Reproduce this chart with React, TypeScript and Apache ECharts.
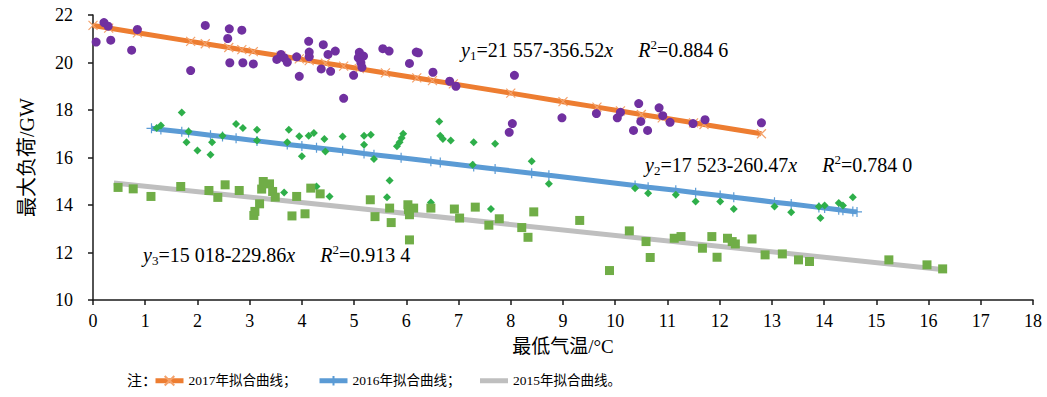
import React, { useEffect, useRef } from "react";
import * as echarts from "echarts";

// ---- data ----
const xTicks = [0, 18, 1];
const yTicks = [10, 22, 2];

const load2017 = [
  [0.06, 20.86], [0.21, 21.68], [0.29, 21.53], [0.34, 20.94], [0.74, 20.52], [0.85, 21.39],
  [1.87, 19.66], [2.15, 21.56], [2.61, 21.42], [2.58, 21.01], [2.85, 21.36], [2.62, 19.99],
  [2.87, 19.99], [3.07, 19.94], [3.52, 20.13], [3.6, 20.34], [3.66, 20.2], [3.72, 20.01],
  [3.9, 20.24], [3.95, 19.42], [4.13, 20.89], [4.14, 20.44], [4.14, 20.24], [4.37, 19.73],
  [4.41, 20.75], [4.5, 20.34], [4.55, 19.63], [4.64, 20.48], [4.8, 18.49], [4.99, 19.46],
  [5.1, 20.43], [5.08, 20.2], [5.18, 20.27], [5.13, 19.99], [5.15, 19.8], [5.55, 20.58],
  [5.67, 20.48], [6.06, 19.96], [6.19, 20.44], [6.23, 20.41], [6.51, 19.59], [6.83, 19.21],
  [6.95, 19.0], [8.07, 19.46], [8.03, 17.43], [7.97, 17.06], [8.98, 17.67], [9.64, 17.85],
  [10.1, 17.9], [10.04, 17.67], [10.45, 18.27], [10.49, 17.52], [10.35, 17.14], [10.62, 17.14],
  [10.84, 18.09], [10.91, 17.76], [11.05, 17.48], [11.49, 17.43], [11.72, 17.59], [12.8, 17.46],
];

const load2016 = [
  [1.22, 17.24], [1.3, 17.35], [1.7, 17.9], [1.83, 17.1], [1.79, 16.64], [2.0, 16.3],
  [2.25, 16.12], [2.28, 16.64], [2.48, 16.92], [2.74, 17.41], [2.87, 17.24], [3.14, 17.17],
  [3.14, 16.72], [3.75, 17.17], [3.72, 16.64], [3.95, 16.89], [4.0, 16.05], [4.13, 16.92],
  [4.23, 17.03], [4.43, 16.78], [4.45, 16.25], [4.78, 16.88], [5.19, 16.92], [5.32, 16.96],
  [5.19, 16.54], [5.38, 15.94], [5.94, 17.0], [5.91, 16.82], [5.87, 16.64], [5.82, 16.47],
  [6.63, 17.52], [6.65, 16.92], [6.7, 16.78], [6.85, 16.72], [7.29, 16.64], [7.7, 16.58],
  [7.27, 15.7], [8.4, 15.84], [8.73, 14.89], [5.68, 15.03], [5.63, 14.33], [6.47, 14.11],
  [7.62, 13.83], [3.66, 14.53], [4.28, 14.78], [4.53, 14.36], [10.38, 14.71], [10.63, 14.5],
  [11.16, 14.43], [11.54, 14.15], [12.01, 14.15], [12.27, 13.83], [13.05, 13.94], [13.37, 13.7],
  [13.9, 13.94], [14.01, 13.98], [13.93, 13.45], [14.28, 14.08], [14.36, 13.98], [14.55, 14.33],
];

const load2015 = [
  [0.48, 14.74], [0.77, 14.68], [1.11, 14.36], [1.68, 14.78], [2.22, 14.61], [2.39, 14.32],
  [2.53, 14.85], [2.8, 14.61], [3.08, 13.56], [3.1, 13.73], [3.19, 14.05], [3.23, 14.67],
  [3.26, 14.99], [3.38, 14.89], [3.44, 14.57], [3.49, 14.33], [3.81, 13.54], [3.9, 14.36],
  [4.06, 13.63], [4.17, 14.71], [4.35, 14.47], [5.31, 14.22], [5.4, 13.51], [5.68, 13.87],
  [5.71, 13.26], [6.03, 14.01], [6.04, 13.8], [6.14, 13.87], [6.06, 13.59], [6.06, 12.53],
  [6.47, 13.87], [6.92, 13.83], [7.02, 13.45], [7.32, 13.91], [7.58, 13.15], [7.78, 13.42],
  [8.21, 13.05], [8.33, 12.64], [8.44, 13.71], [9.32, 13.35], [9.89, 11.24], [10.27, 12.91],
  [10.59, 12.46], [10.67, 11.79], [11.13, 12.6], [11.26, 12.67], [11.67, 12.18], [11.85, 12.67],
  [11.95, 11.8], [12.15, 12.6], [12.24, 12.46], [12.3, 12.36], [12.62, 12.57], [12.87, 11.9],
  [13.2, 11.94], [13.51, 11.69], [13.72, 11.62], [15.24, 11.69], [15.97, 11.48], [16.27, 11.31],
];

const fit2017 = [
  [0.0, 21.56], [0.3, 21.45], [0.85, 21.25], [1.87, 20.89], [2.15, 20.79], [2.6, 20.63],
  [2.85, 20.54], [3.07, 20.46], [3.6, 20.27], [3.95, 20.15], [4.14, 20.08], [4.45, 19.97],
  [4.8, 19.85], [5.1, 19.74], [5.6, 19.56], [6.2, 19.35], [6.5, 19.24], [6.9, 19.1],
  [8.0, 18.71], [9.0, 18.35], [9.65, 18.12], [10.1, 17.96], [10.5, 17.81], [10.9, 17.67],
  [11.5, 17.46], [11.7, 17.39], [12.8, 17.0],
];

const fit2016 = [
  [1.12, 17.23], [1.3, 17.18], [1.7, 17.08], [1.83, 17.05], [2.25, 16.94], [2.48, 16.88],
  [2.74, 16.81], [3.14, 16.7], [3.72, 16.55], [4.0, 16.48], [4.28, 16.41], [4.78, 16.28],
  [5.19, 16.17], [5.38, 16.12], [5.9, 15.99], [6.47, 15.84], [6.65, 15.79], [7.29, 15.62],
  [7.7, 15.52], [8.4, 15.34], [8.73, 15.25], [10.38, 14.82], [10.63, 14.75], [11.16, 14.62],
  [11.54, 14.52], [12.01, 14.4], [12.27, 14.33], [13.05, 14.12], [13.37, 14.04], [13.9, 13.9],
  [14.01, 13.87], [14.28, 13.8], [14.36, 13.78], [14.55, 13.73], [14.63, 13.71],
];

const fit2015 = [[0.4, 14.93], [16.35, 11.26]];

const seriesNames = ["2017年拟合曲线；", "2016年拟合曲线；", "2015年拟合曲线。"];
const equations = [
  { y: "y", sub: "1", body: "=21 557-356.52", r2: "=0.884 6" },
  { y: "y", sub: "2", body: "=17 523-260.47", r2: "=0.784 0" },
  { y: "y", sub: "3", body: "=15 018-229.86", r2: "=0.913 4" },
];

const SERIF = "Liberation Serif, Noto Sans CJK SC, serif";

const X_SYMBOL = "path://M0,0L10,10M10,0L0,10";
const PLUS_SYMBOL = "path://M5,0L5,10M0,5L10,5";

function eqText(e: { y: string; sub: string; body: string; r2: string }) {
  return `{i|${e.y}}{sub|${e.sub}}{n|${e.body}}{i|x}{n|     }{i|R}{sup|2}{n|${e.r2}}`;
}

const rich = {
  n: { fontFamily: SERIF, fontSize: 20, lineHeight: 24, color: "#000" },
  i: { fontFamily: SERIF, fontSize: 20, lineHeight: 24, fontStyle: "italic", color: "#000" },
  sub: { fontFamily: SERIF, fontSize: 13, lineHeight: 13, verticalAlign: "bottom", color: "#000" },
  sup: { fontFamily: SERIF, fontSize: 13, lineHeight: 15, verticalAlign: "top", color: "#000" },
};

export default function App() {
  const ref = useRef<HTMLDivElement>(null);
  useEffect(() => {
    if (!ref.current) return;
    const chart = echarts.init(ref.current, undefined, { renderer: "svg" });
    const axisLineStyle = { color: "#1a1a1a", width: 1.5 };
    const legendBase = {
      top: 374,
      padding: 0,
      itemWidth: 28,
      itemHeight: 12,
      itemGap: 0,
      lineStyle: { width: 5 },
      textStyle: { fontFamily: SERIF, fontSize: 13.5, color: "#000" },
    };
    chart.setOption({
      animation: false,
      backgroundColor: "#fff",
      textStyle: { fontFamily: SERIF },
      grid: { left: 93, right: 14, top: 15, bottom: 97, containLabel: false },
      xAxis: {
        type: "value",
        min: xTicks[0],
        max: xTicks[1],
        interval: xTicks[2],
        name: "最低气温/°C",
        nameLocation: "middle",
        nameGap: 37,
        nameTextStyle: { fontFamily: SERIF, fontSize: 19, color: "#000" },
        axisLine: { lineStyle: axisLineStyle },
        axisTick: { show: true, length: 5, lineStyle: axisLineStyle },
        axisLabel: { fontFamily: SERIF, fontSize: 18, color: "#000", margin: 12 },
        splitLine: { show: false },
      },
      yAxis: {
        type: "value",
        min: yTicks[0],
        max: yTicks[1],
        interval: yTicks[2],
        name: "最大负荷/GW",
        nameLocation: "middle",
        nameGap: 56,
        nameTextStyle: { fontFamily: SERIF, fontSize: 20, color: "#000" },
        axisLine: { show: true, lineStyle: axisLineStyle },
        axisTick: { show: true, length: 5, lineStyle: axisLineStyle },
        axisLabel: { fontFamily: SERIF, fontSize: 18, color: "#000", margin: 20 },
        splitLine: { show: false },
      },
      legend: [
        { ...legendBase, left: 153, data: [seriesNames[0]] },
        { ...legendBase, left: 317, data: [seriesNames[1]] },
        { ...legendBase, left: 480, itemHeight: 5, data: [{ name: seriesNames[2], icon: "rect" }] },
      ],
      graphic: [
        {
          type: "text",
          left: 127,
          top: 373,
          style: { text: "注：", fontFamily: SERIF, fontSize: 15, fill: "#000" },
        },
        { type: "text", left: 461, top: 38, style: { text: eqText(equations[0]), rich } },
        { type: "text", left: 645, top: 153, style: { text: eqText(equations[1]), rich } },
        { type: "text", left: 143, top: 243, style: { text: eqText(equations[2]), rich } },
      ],
      series: [
        {
          name: seriesNames[0],
          type: "line",
          data: fit2017,
          symbol: X_SYMBOL,
          symbolSize: 9,
          showAllSymbol: true,
          lineStyle: { color: "#ED7D31", width: 5 },
          itemStyle: { color: "rgba(0,0,0,0)", borderColor: "#F4A26B", borderWidth: 1.2 },
          z: 2,
        },
        {
          name: seriesNames[1],
          type: "line",
          data: fit2016,
          symbol: PLUS_SYMBOL,
          symbolSize: 10,
          showAllSymbol: true,
          lineStyle: { color: "#5B9BD5", width: 5 },
          itemStyle: { color: "rgba(0,0,0,0)", borderColor: "#5B9BD5", borderWidth: 1.2 },
          z: 2,
        },
        {
          name: seriesNames[2],
          type: "line",
          data: fit2015,
          symbol: "none",
          lineStyle: { color: "#BFBFBF", width: 5 },
          itemStyle: { color: "#BFBFBF" },
          z: 2,
        },
        {
          name: "2017",
          type: "scatter",
          data: load2017,
          symbol: "circle",
          symbolSize: 9,
          itemStyle: { color: "#7030A0", opacity: 1 },
          z: 3,
        },
        {
          name: "2016",
          type: "scatter",
          data: load2016,
          symbol: "diamond",
          symbolSize: 8,
          itemStyle: { color: "#2EAF4A", opacity: 1 },
          z: 3,
        },
        {
          name: "2015",
          type: "scatter",
          data: load2015,
          symbol: "rect",
          symbolSize: 9,
          itemStyle: { color: "#70AD47", opacity: 1 },
          z: 3,
        },
      ],
    });
    return () => chart.dispose();
  }, []);
  return (
    <div
      ref={ref}
      style={{ position: "fixed", left: 0, top: 0, width: 1047, height: 397, background: "#fff" }}
    />
  );
}
